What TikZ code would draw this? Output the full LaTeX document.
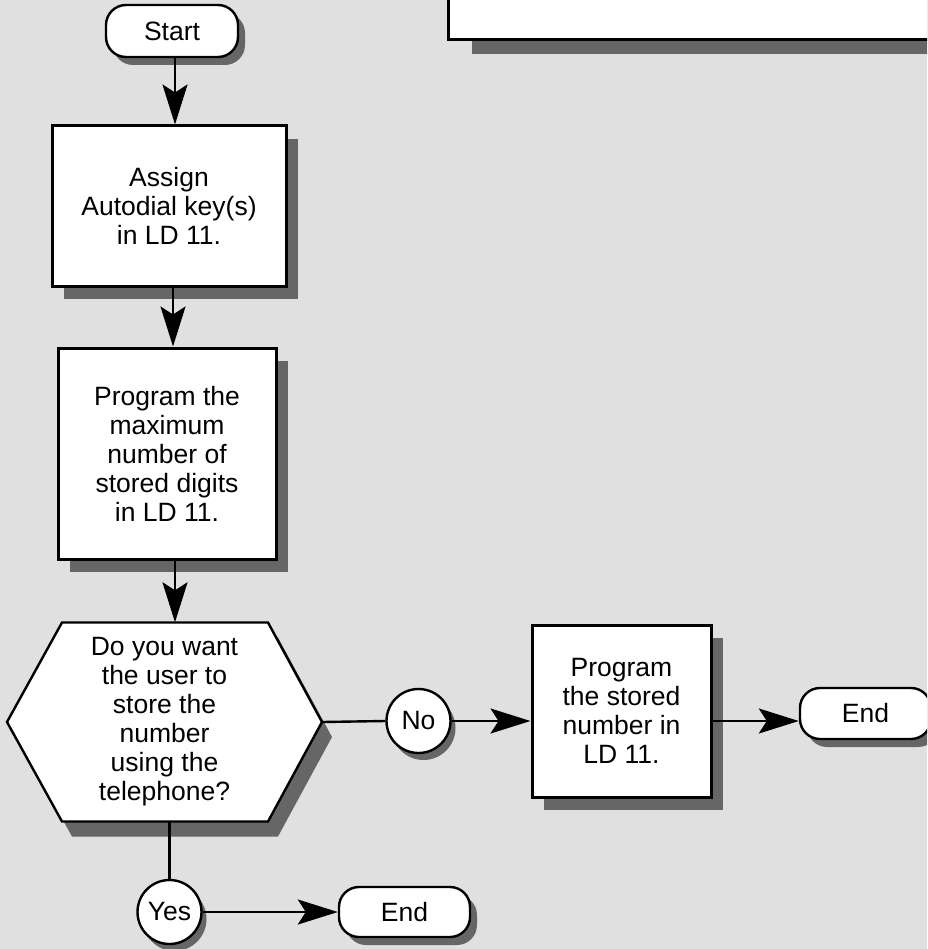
\documentclass[tikz,border=0pt]{standalone}
\usepackage{fontspec}
\setmainfont{Liberation Sans}
\usetikzlibrary{arrows.meta,shadows,calc}
\definecolor{bg}{HTML}{E0E0E0}
\definecolor{shd}{HTML}{666666}
\begin{document}
\begin{tikzpicture}[x=1pt,y=-1pt,
  txt/.style={font=\fontsize{26.5}{29}\selectfont, align=center, inner sep=0pt},
  box/.style={txt, draw, line width=3pt, fill=white,
    drop shadow={shadow xshift=12pt, shadow yshift=-13pt, fill=shd, opacity=1}},
  term/.style={txt, draw, line width=2.4pt, fill=white, rounded corners=20pt,
    drop shadow={shadow xshift=7pt, shadow yshift=-8pt, fill=shd, opacity=1}},
  circ/.style={txt, circle, draw, line width=2.4pt, fill=white, minimum size=64pt,
    drop shadow={shadow xshift=5pt, shadow yshift=-7pt, fill=shd, opacity=1}},
  arr/.style={line width=2.4pt, -{Stealth[length=40pt,width=25pt,inset=8pt]}},
  ln/.style={line width=2.4pt}]
\fill[bg] (0,0) rectangle (927,949);
\useasboundingbox (0,0) rectangle (927,949);

% top-right box (cut off)
\begin{scope}
\clip (0,0) rectangle (927,949);
\fill[shd] (472,-20) rectangle (940,54);
\draw[line width=3pt, fill=white] (448,-20) rectangle (940,40);
\end{scope}

% start
\node[term, minimum width=132pt, minimum height=52pt] (start) at (172,31) {Start};

% boxes
\node[box, minimum width=234pt, minimum height=160pt] (b1) at (169,206)
  {Assign\\Autodial key(s)\\in LD 11.};
\node[box, minimum width=218pt, minimum height=211pt] (b2) at (167,453.5)
  {Program the\\maximum\\number of\\stored digits\\in LD 11.};

% hexagon decision
\coordinate (hs) at (174.5,737);
\coordinate (hc) at (164.5,722);
\fill[shd] ($(hs)+(-157.5,0)$) -- ($(hs)+(-102.5,-99.5)$) -- ($(hs)+(103.5,-99.5)$)
  -- ($(hs)+(157.5,0)$) -- ($(hs)+(103.5,99.5)$) -- ($(hs)+(-102.5,99.5)$) -- cycle;
\draw[line width=2.4pt, fill=white] ($(hc)+(-157.5,0)$) -- ($(hc)+(-102.5,-99.5)$) -- ($(hc)+(103.5,-99.5)$)
  -- ($(hc)+(157.5,0)$) -- ($(hc)+(103.5,99.5)$) -- ($(hc)+(-102.5,99.5)$) -- cycle;
\node[txt, minimum width=315pt, minimum height=199pt] (hex) at (hc)
  {Do you want\\the user to\\store the\\number\\using the\\telephone?};

% No branch
\node[circ] (no) at (418.5,721) {No};
\node[box, minimum width=179pt, minimum height=172pt] (b3) at (621.5,711)
  {Program\\the stored\\number in\\LD 11.};
\begin{scope}
\clip (0,0) rectangle (927,949);
\node[term, minimum width=131pt, minimum height=51pt] (e1) at (865.5,713.5) {End};
\end{scope}

% Yes branch
\node[circ] (yes) at (169.5,912) {Yes};
\node[term, minimum width=131pt, minimum height=50pt] (e2) at (404.5,912) {End};

% connectors
\draw[arr] ([xshift=3pt]start.south) -- ([xshift=6pt]b1.north);
\draw[arr] ([xshift=4pt]b1.south) -- ([xshift=6pt]b2.north);
\draw[arr] ([xshift=8pt]b2.south) -- ([xshift=8pt]b2.south |- hex.north);
\draw[ln] (hex.east) -- (no.west);
\draw[arr] (no.east) -- (no.east -| b3.west);
\draw[arr] (b3.east |- no.east) -- (e1.west |- no.east);
\draw[ln] (hex.south -| yes.north) -- (yes.north);
\draw[arr] (yes.east) -- (e2.west);
\end{tikzpicture}
\end{document}
